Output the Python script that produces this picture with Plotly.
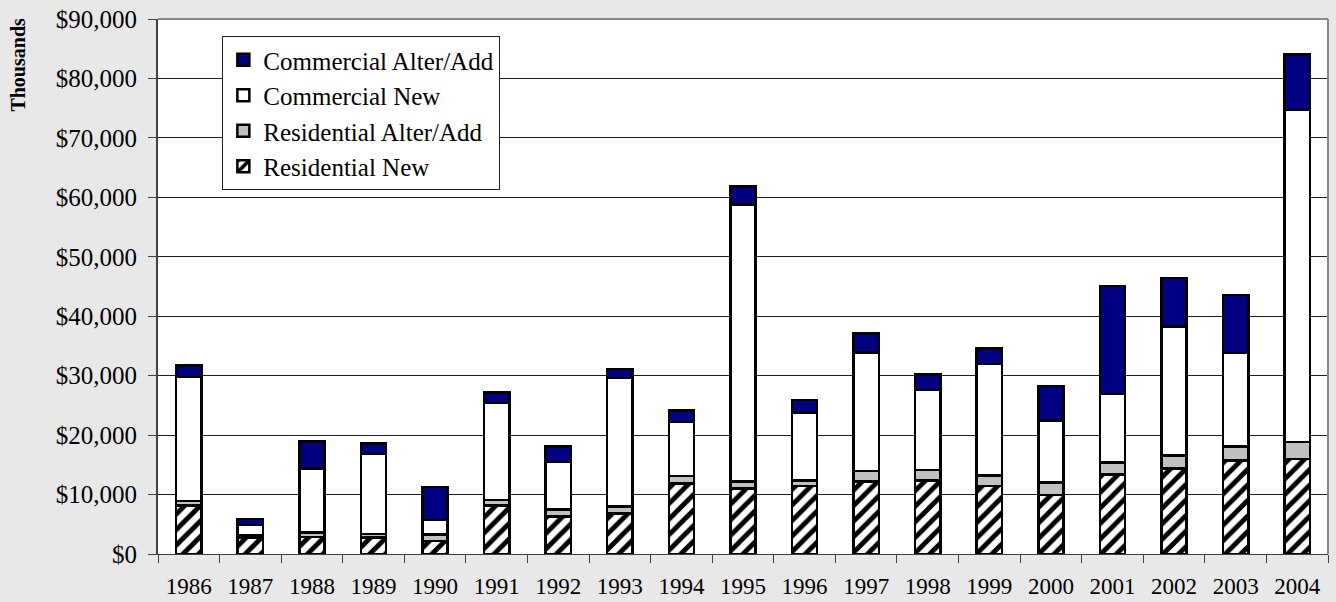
import plotly.graph_objects as go

years = [str(y) for y in range(1986, 2005)]
residential_new = [8200, 2700, 2900, 2800, 2200, 8200, 6300, 6800, 11900, 11000,
                   11400, 12200, 12400, 11400, 9900, 13400, 14400, 15700, 16000]
residential_alter = [700, 400, 700, 600, 1100, 900, 1200, 1200, 1200, 1200,
                     1000, 1800, 1700, 1800, 2100, 2000, 2200, 2400, 2800]
commercial_new = [20900, 1800, 10800, 13400, 2400, 16300, 8000, 21600, 9100, 46600,
                  11400, 19900, 13500, 18800, 10500, 11500, 21700, 15700, 55900]
commercial_alter = [1900, 1000, 4500, 1800, 5600, 1800, 2600, 1500, 1900, 3000,
                    2100, 3200, 2600, 2600, 5800, 18200, 8100, 9800, 9300]

FONT = "Liberation Serif"
outline = dict(color="black", width=2.5)

fig = go.Figure()
fig.add_trace(go.Bar(
    name="Residential New", x=years, y=residential_new,
    marker=dict(color="white", line=outline,
                pattern=dict(shape="/", fgcolor="black", bgcolor="white",
                             fgopacity=1, size=11, solidity=0.45)),
))
fig.add_trace(go.Bar(
    name="Residential Alter/Add", x=years, y=residential_alter,
    marker=dict(color="#c0c0c0", line=outline),
))
fig.add_trace(go.Bar(
    name="Commercial New", x=years, y=commercial_new,
    marker=dict(color="white", line=outline),
))
fig.add_trace(go.Bar(
    name="Commercial Alter/Add", x=years, y=commercial_alter,
    marker=dict(color="#000080", line=outline),
))

fig.update_layout(
    barmode="stack",
    bargap=0.59,
    width=1336, height=602,
    margin=dict(l=158, r=8, t=19, b=48),
    paper_bgcolor="#e8e8e8",
    plot_bgcolor="white",
    font=dict(family=FONT, color="black", size=22),
    showlegend=True,
    legend=dict(
        x=0.055, y=0.968, xanchor="left", yanchor="top",
        traceorder="reversed",
        bgcolor="white", bordercolor="#202020", borderwidth=1,
        font=dict(family=FONT, size=25, color="black"),
        tracegroupgap=0,
    ),
    xaxis=dict(
        type="category",
        automargin=False,
        tickson="boundaries",
        ticks="outside", ticklen=8, tickcolor="#404040",
        showline=True, linecolor="#404040", linewidth=1,
        showgrid=False,
        ticklabelstandoff=11,
        tickfont=dict(family=FONT, size=23, color="black"),
    ),
    yaxis=dict(
        range=[0, 90000], dtick=10000,
        automargin=False,
        tickprefix="$", tickformat=",",
        ticks="outside", ticklen=8, tickcolor="#404040",
        showline=True, linecolor="#404040", linewidth=2,
        showgrid=True, gridcolor="#202020", gridwidth=1,
        zeroline=False,
        ticklabelstandoff=6,
        tickfont=dict(family=FONT, size=25, color="black"),
    ),
    annotations=[dict(
        text="<b>Thousands</b>", textangle=-90,
        xref="paper", yref="paper", x=-0.12, y=0.914,
        xanchor="center", yanchor="middle",
        showarrow=False, font=dict(family=FONT, size=20, color="black"),
    )],
    shapes=[
        dict(type="line", xref="paper", yref="paper", x0=0, x1=1, y0=1, y1=1,
             line=dict(color="#888888", width=2)),
        dict(type="line", xref="paper", yref="paper", x0=1, x1=1, y0=0, y1=1,
             line=dict(color="#888888", width=2)),
    ],
)

fig.write_html(
    "out.html",
    config={"displayModeBar": False},
    post_script="document.body.style.margin='0';document.body.style.padding='0';",
)
